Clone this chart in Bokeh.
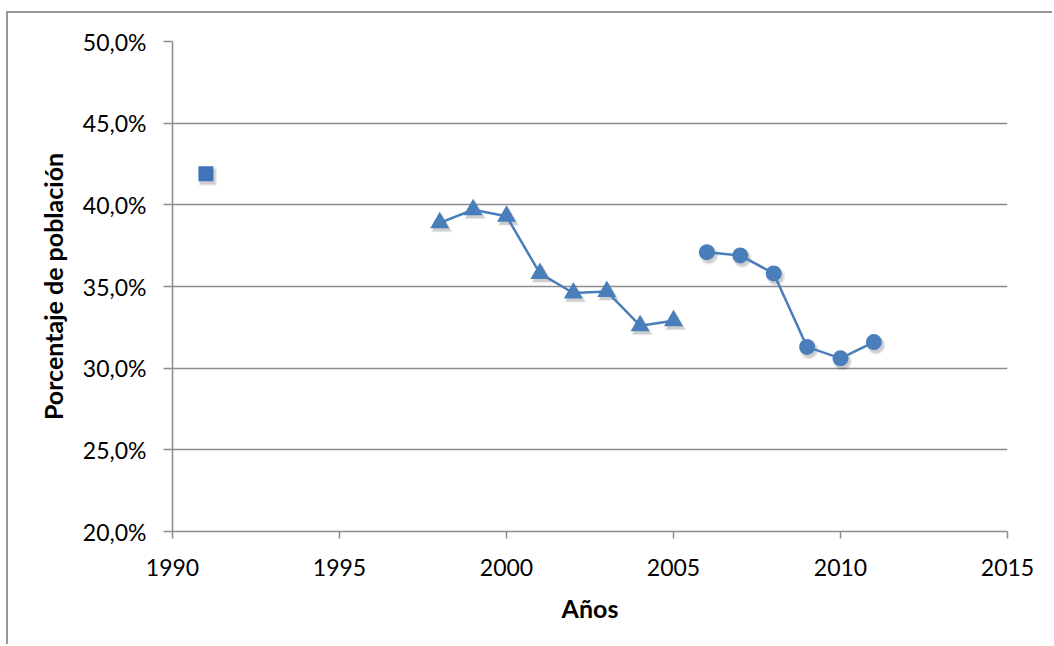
from bokeh.plotting import figure
from bokeh.models import Range1d, FixedTicker, CustomJSTickFormatter
from bokeh.embed import file_html
from bokeh.resources import INLINE

# Porcentaje de población por año (tres series de la encuesta)
years_1991 = [1991]
pct_1991 = [41.9]

years_a = [1998, 1999, 2000, 2001, 2002, 2003, 2004, 2005]
pct_a = [38.9, 39.7, 39.3, 35.8, 34.6, 34.7, 32.6, 32.9]

years_b = [2006, 2007, 2008, 2009, 2010, 2011]
pct_b = [37.1, 36.9, 35.8, 31.3, 30.6, 31.6]

x_ticks = [1990, 1995, 2000, 2005, 2010, 2015]
y_ticks = [20, 25, 30, 35, 40, 45, 50]

BLUE = "#4a7ebb"
GRID = "#8c8c8c"
FONT = "Lato"

p = figure(width=1046, height=633, output_backend="svg", toolbar_location=None,
           x_range=Range1d(1990, 2015), y_range=Range1d(20, 50),
           min_border_left=164, min_border_right=47, min_border_top=28, min_border_bottom=115)
p.outline_line_color = None
p.background_fill_color = "white"
p.border_fill_color = "white"

# outer chart frame (left and top edges are the only ones inside the page)
p.styles = {"margin-left": "6px", "margin-top": "11px",
            "border-left": "2px solid #969696", "border-top": "2px solid #969696"}

p.xgrid.grid_line_color = None
p.ygrid.grid_line_color = GRID
p.ygrid.grid_line_width = 1.5
p.ygrid.ticker = FixedTicker(ticks=y_ticks)

for ax in (p.xaxis[0], p.yaxis[0]):
    ax.axis_line_color = GRID
    ax.axis_line_width = 1.5
    ax.major_tick_line_color = GRID
    ax.major_tick_line_width = 1.5
    ax.major_tick_in = 0
    ax.minor_tick_line_color = None
    ax.major_label_text_font = FONT
    ax.major_label_text_font_size = "23px"
    ax.major_label_text_color = "black"
    ax.axis_label_text_font = FONT
    ax.axis_label_text_font_size = "25px"
    ax.axis_label_text_font_style = "bold"
    ax.axis_label_text_color = "black"

p.xaxis.ticker = FixedTicker(ticks=x_ticks)
p.xaxis.major_tick_out = 7
p.xaxis.major_label_standoff = 20
p.xaxis.axis_label = "Años"
p.xaxis.axis_label_standoff = 14

p.yaxis.ticker = FixedTicker(ticks=y_ticks)
p.yaxis.major_tick_out = 9
p.yaxis.major_label_standoff = 17
p.yaxis.formatter = CustomJSTickFormatter(code="return tick.toFixed(1).replace('.', ',') + '%';")
p.yaxis.axis_label = "Porcentaje de población"
p.yaxis.axis_label_standoff = 12

# soft drop shadow under markers (offset a few pixels right/down)
DX = 2.0 * 25 / 835
DY = 3.0 * 30 / 490
def shadow(xs, ys, marker, size):
    sx = [x + DX for x in xs]
    sy = [y - DY for y in ys]
    p.scatter(sx, sy, marker=marker, size=size + 3, fill_color="#000000", fill_alpha=0.08, line_color=None)
    p.scatter(sx, sy, marker=marker, size=size, fill_color="#000000", fill_alpha=0.12, line_color=None)

shadow(years_1991, pct_1991, "square", 15)
shadow(years_a, pct_a, "triangle", 19)
shadow(years_b, pct_b, "circle", 16)

p.line(years_a, pct_a, line_color=BLUE, line_width=2.5)
p.line(years_b, pct_b, line_color=BLUE, line_width=2.5)

p.scatter(years_1991, pct_1991, marker="square", size=15, fill_color="#3f74b8", line_color=None)
p.scatter(years_a, pct_a, marker="triangle", size=19, fill_color=BLUE, line_color=None)
p.scatter(years_b, pct_b, marker="circle", size=16, fill_color=BLUE, line_color=None)

open("out.html", "w").write(file_html(p, INLINE))
